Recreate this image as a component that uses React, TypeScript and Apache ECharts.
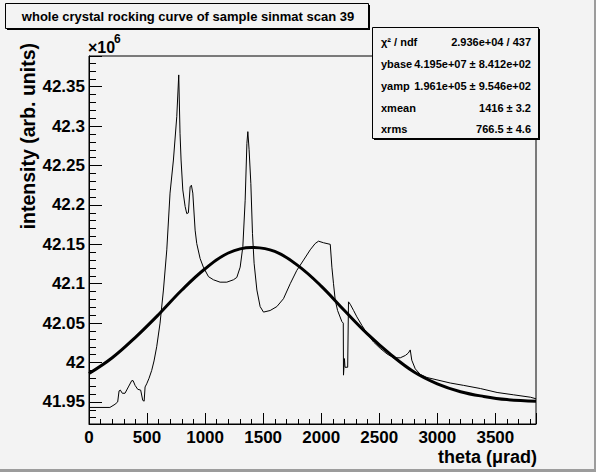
import React, { useEffect, useRef } from "react";
import * as echarts from "echarts";

const titleText = "whole crystal rocking curve of sample sinmat scan 39";
const xTitle = "theta (\u03bcrad)";
const yTitle = "intensity (arb. units)";

const thetaData = [0, 180, 224, 247, 259, 270, 287, 310, 339, 368, 380, 397, 420, 445, 463, 475, 483, 497, 517, 540, 560, 583, 612, 641, 670, 698, 727, 756, 773, 784, 793, 808, 828, 842, 856, 871, 882, 894, 914, 928, 957, 985, 1029, 1072, 1129, 1187, 1244, 1273, 1302, 1325, 1345, 1360, 1368, 1379, 1394, 1408, 1422, 1446, 1474, 1503, 1560, 1618, 1675, 1733, 1790, 1848, 1905, 1948, 1977, 2020, 2078, 2092, 2106, 2121, 2141, 2178, 2190, 2192, 2200, 2205, 2228, 2235, 2250, 2279, 2307, 2351, 2394, 2451, 2508, 2566, 2623, 2681, 2725, 2750, 2767, 2780, 2810, 2853, 2911, 2997, 3112, 3227, 3371, 3515, 3658, 3802, 3850];

const intensityData = [41.943, 41.943, 41.947, 41.95, 41.964, 41.965, 41.961, 41.961, 41.969, 41.977, 41.977, 41.971, 41.966, 41.965, 41.952, 41.951, 41.969, 41.973, 41.98, 41.99, 42.002, 42.02, 42.05, 42.092, 42.143, 42.215, 42.257, 42.312, 42.365, 42.291, 42.257, 42.219, 42.198, 42.189, 42.19, 42.223, 42.225, 42.215, 42.168, 42.151, 42.132, 42.121, 42.109, 42.105, 42.102, 42.102, 42.105, 42.108, 42.121, 42.147, 42.206, 42.278, 42.293, 42.27, 42.227, 42.164, 42.126, 42.092, 42.071, 42.064, 42.066, 42.071, 42.081, 42.1, 42.117, 42.13, 42.143, 42.151, 42.154, 42.152, 42.15, 42.121, 42.1, 42.079, 42.066, 42.052, 42.05, 41.984, 42.005, 41.994, 41.994, 42.077, 42.074, 42.066, 42.058, 42.047, 42.037, 42.026, 42.018, 42.011, 42.006, 42.006, 42.009, 42.012, 42.016, 42.003, 41.992, 41.985, 41.981, 41.978, 41.974, 41.971, 41.967, 41.962, 41.959, 41.956, 41.954];

const fitTheta = [0, 200, 400, 600, 800, 1000, 1200, 1400, 1600, 1800, 2000, 2200, 2400, 2600, 2800, 3000, 3200, 3400, 3600, 3850];
const fitIntensity = [41.986, 42.006, 42.032, 42.061, 42.092, 42.119, 42.139, 42.146, 42.141, 42.123, 42.097, 42.066, 42.036, 42.01, 41.988, 41.973, 41.963, 41.957, 41.953, 41.951];

const statLabels = ["\u03c7\u00b2 / ndf", "ybase", "yamp", "xmean", "xrms"];
const statValues = ["2.936e+04 / 437", "4.195e+07 \u00b1 8.412e+02", "1.961e+05 \u00b1 9.546e+02", "1416 \u00b1 3.2", "766.5 \u00b1 4.6"];

const FONT = "'Liberation Sans', Arial, Helvetica, sans-serif";
const BG = "#f3f3f3";

export default function App() {
  const ref = useRef<HTMLDivElement>(null);
  useEffect(() => {
    const chart = echarts.init(ref.current!, null, { renderer: "svg" });
    const statRowsY = [42, 64, 86, 108, 129];
    const statGraphics: any[] = [];
    statLabels.forEach((l, i) => {
      statGraphics.push({
        type: "text", x: 381, y: statRowsY[i], z: 102,
        style: { text: l, font: `bold 11px ${FONT}`, fill: "#000", align: "left", verticalAlign: "middle", textAlign: "left", textVerticalAlign: "middle" },
      });
      statGraphics.push({
        type: "text", x: 531, y: statRowsY[i], z: 102,
        style: { text: statValues[i], font: `bold 11px ${FONT}`, fill: "#000", align: "right", verticalAlign: "middle", textAlign: "right", textVerticalAlign: "middle" },
      });
    });

    const axisCommon = {
      axisLine: { show: true, lineStyle: { color: "#000", width: 1 } },
      splitLine: { show: false },
      minorSplitLine: { show: false },
    };

    chart.setOption({
      animation: false,
      backgroundColor: BG,
      grid: { left: 89, top: 56, width: 447, height: 368, show: true, borderColor: "#000", borderWidth: 1, backgroundColor: "transparent" },
      xAxis: {
        type: "value", min: 0, max: 3850, splitNumber: 7,
        ...axisCommon,
        axisTick: { show: true, inside: true, length: 11, lineStyle: { color: "#000", width: 1 } },
        minorTick: { show: true, splitNumber: 5, length: 5, lineStyle: { color: "#000", width: 1 } },
        axisLabel: { color: "#000", fontFamily: FONT, fontWeight: "bold", fontSize: 17, margin: 5, showMaxLabel: false, formatter: (v: number) => String(v) },
      },
      yAxis: {
        type: "value", min: 41.922, max: 42.389, splitNumber: 9,
        ...axisCommon,
        axisTick: { show: true, inside: true, length: 13, lineStyle: { color: "#000", width: 1 } },
        minorTick: { show: true, splitNumber: 5, length: 7, lineStyle: { color: "#000", width: 1 } },
        axisLabel: { color: "#000", fontFamily: FONT, fontWeight: "bold", fontSize: 17, margin: 4, showMinLabel: false, showMaxLabel: false, formatter: (v: number) => String(Number(v.toFixed(3))) },
      },
      series: [
        {
          type: "line", symbol: "none", showSymbol: false, clip: true, z: 2,
          data: thetaData.map((t, i) => [t, intensityData[i]]),
          lineStyle: { color: "#000", width: 1 },
        },
        {
          type: "line", symbol: "none", showSymbol: false, smooth: 0.4, clip: true, z: 3,
          data: fitTheta.map((t, i) => [t, fitIntensity[i]]),
          lineStyle: { color: "#000", width: 3 },
        },
      ],
      graphic: [
        { type: "rect", shape: { x: 594, y: 0, width: 2, height: 472 }, style: { fill: "#9c9c9c" }, z: 100 },
        { type: "rect", shape: { x: 0, y: 469, width: 596, height: 3 }, style: { fill: "#9c9c9c" }, z: 100 },
        { type: "rect", shape: { x: 7, y: 5, width: 363, height: 25 }, style: { fill: "#000" }, z: 100 },
        { type: "rect", shape: { x: 5.5, y: 3.5, width: 363, height: 25 }, style: { fill: BG, stroke: "#000", lineWidth: 1 }, z: 101 },
        { type: "text", x: 188, y: 16, z: 102, style: { text: titleText, font: `bold 13px ${FONT}`, fill: "#000", align: "center", verticalAlign: "middle", textAlign: "center", textVerticalAlign: "middle" } },
        { type: "rect", shape: { x: 374, y: 29, width: 166, height: 111 }, style: { fill: "#000" }, z: 100 },
        { type: "rect", shape: { x: 372.5, y: 27.5, width: 166, height: 111 }, style: { fill: BG, stroke: "#000", lineWidth: 1 }, z: 101 },
        ...statGraphics,
        { type: "text", x: 88, y: 47, z: 102, style: { text: "\u00d710", font: `bold 16px ${FONT}`, fill: "#000", align: "left", verticalAlign: "middle", textAlign: "left", textVerticalAlign: "middle" } },
        { type: "text", x: 114, y: 39, z: 102, style: { text: "6", font: `bold 12px ${FONT}`, fill: "#000", align: "left", verticalAlign: "middle", textAlign: "left", textVerticalAlign: "middle" } },
        { type: "text", x: 28, y: 43, rotation: Math.PI / 2, z: 102, style: { text: yTitle, font: `bold 19.5px ${FONT}`, fill: "#000", align: "right", verticalAlign: "middle", textAlign: "right", textVerticalAlign: "middle" } },
        { type: "text", x: 537, y: 457, z: 102, style: { text: xTitle, font: `bold 18px ${FONT}`, fill: "#000", align: "right", verticalAlign: "middle", textAlign: "right", textVerticalAlign: "middle" } },
      ],
    });
    return () => chart.dispose();
  }, []);
  return <div ref={ref} style={{ position: "fixed", left: 0, top: 0, width: 596, height: 472 }} />;
}
